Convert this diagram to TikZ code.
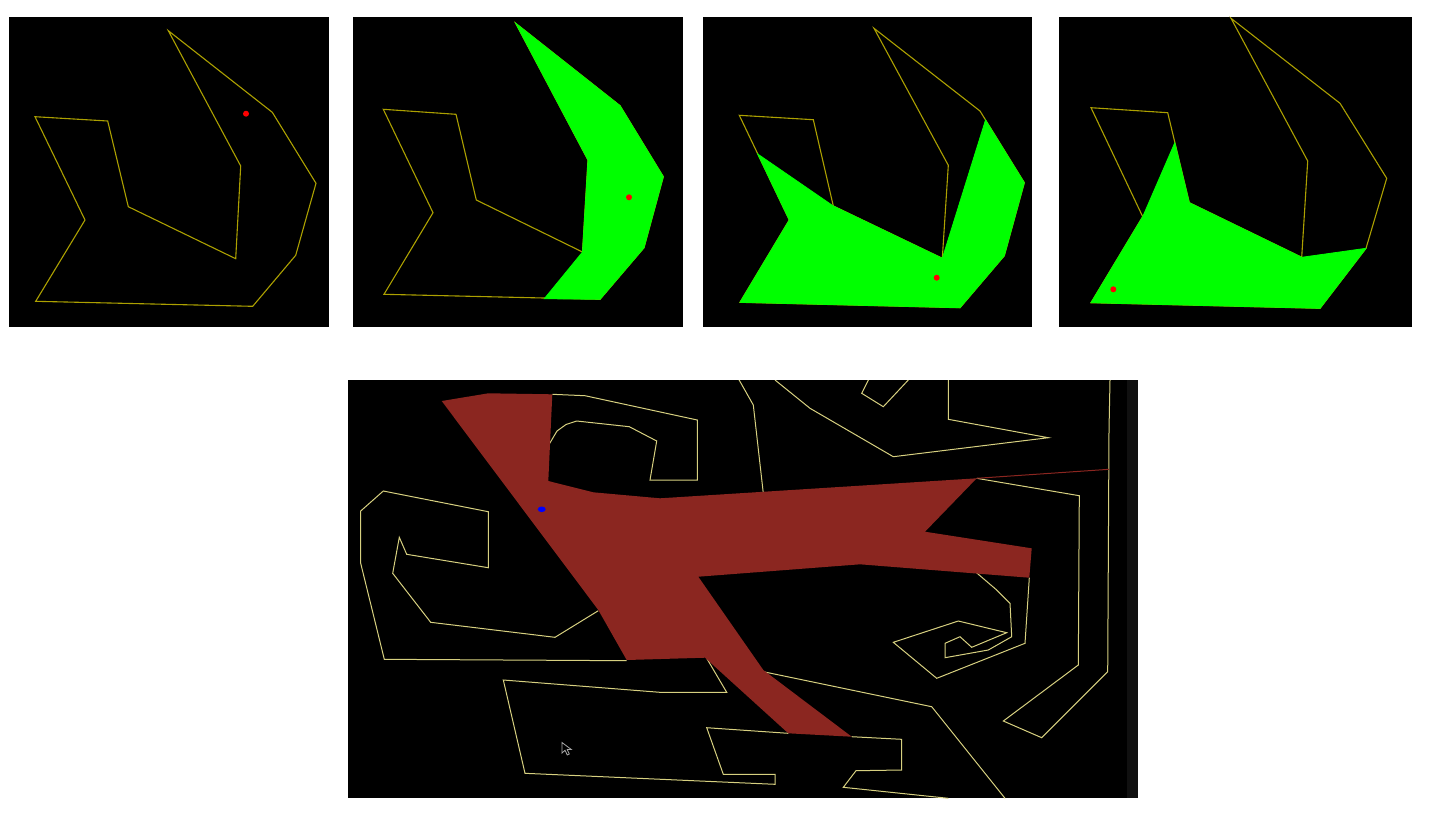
\documentclass[tikz,border=0pt]{standalone}
\begin{document}
\begin{tikzpicture}[x=1pt,y=-1pt,line join=miter]
\definecolor{olv}{RGB}{172,160,0}
\definecolor{ply}{RGB}{215,208,128}
\definecolor{brick}{RGB}{139,38,32}
\definecolor{lime}{RGB}{0,255,0}
\definecolor{strip}{RGB}{16,16,16}
\tikzset{
  panel/.style={fill=black},
  edge/.style={draw=olv,line width=1.1pt},
  region/.style={fill=lime,draw=lime,line width=0.8pt},
  probe/.style={fill=red},
  wire/.style={draw=ply,line width=1pt},
  zone/.style={fill=brick}
}
\useasboundingbox (0,0) rectangle (1442,820);
\fill[white] (0,0) rectangle (1442,820);
% ---------- panel 1
\fill[panel] (9,17) rectangle (329,327);
\path[edge] (168.3,30.7) -- (272.3,112.3) -- (316,183.3) -- (295.7,255.3) -- (252.7,306.3) -- (35.7,301.3) -- (85,220) -- (35,116.7) -- (107.7,121) -- (128.3,206.7) -- (235.7,258.7) -- (240.7,166) -- cycle;
\fill[probe] (246,113.7) circle (3);
% ---------- panel 2
\fill[panel] (353,17) rectangle (683,327);
\path[edge] (515.7,23.3) -- (620,105.7) -- (663.3,176.7) -- (644,247.7) -- (600,299.3) -- (384,294.3) -- (433,212.7) -- (383.3,109.3) -- (456,114.3) -- (476.3,200) -- (582.5,252) -- (588,160) -- cycle;
\path[region] (515.7,23.3) -- (620,105.7) -- (663.3,176.7) -- (644,247.7) -- (600,299.3) -- (544.3,298.7) -- (582.5,252) -- (588,160) -- cycle;
\fill[probe] (629,197.3) circle (3);
% ---------- panel 3
\fill[panel] (703,17) rectangle (1032,327);
\path[edge] (874,28.3) -- (980,111) -- (1024.3,182.7) -- (1004.3,255.7) -- (960,307.7) -- (740,302.3) -- (789.3,220) -- (739.3,115.3) -- (813.3,119.7) -- (833.3,206) -- (942.3,258.3) -- (948.3,165.3) -- cycle;
\path[region] (757.7,154) -- (833.3,206) -- (942.3,258.3) -- (985.5,120) -- (1024.3,182.7) -- (1004.3,255.7) -- (960,307.7) -- (740,302.3) -- (789.3,220) -- cycle;
\fill[probe] (936.7,277.7) circle (3);
% ---------- panel 4
\fill[panel] (1059,17) rectangle (1412,327);
\path[edge] (1231,18.3) -- (1340,103.3) -- (1386.7,178.3) -- (1366,248.3) -- (1320,308.3) -- (1091,302.7) -- (1142.7,216.7) -- (1091,107.7) -- (1167.7,112.7) -- (1189.3,202.7) -- (1301.7,257.3) -- (1307.7,161) -- cycle;
\path[region] (1142.7,216.7) -- (1174.8,142.7) -- (1189.3,202.7) -- (1301.7,257.3) -- (1366,248.3) -- (1320,308.3) -- (1091,302.7) -- cycle;
\fill[probe] (1113.3,289.3) circle (3);
% ---------- bottom panel
\fill[panel] (348,380) rectangle (1138,798);
\fill[strip] (1127,380) rectangle (1138,798);
\begin{scope}
\clip (348,380) rectangle (1127,798);
% upper C shape
\path[wire] (552.3,394.3) -- (585,395.7) -- (697.3,420) -- (697.3,480) -- (650,480) -- (656.7,441) -- (629.3,426.7) -- (576.7,421) -- (566,424.5) -- (557,431) -- (548.3,445.7);
% left C shape
\path[wire] (598.3,610.7) -- (555,637.3) -- (430.7,622.3) -- (392.7,573.3) -- (399.3,537.3) -- (406.7,554.3) -- (488.3,567.7) -- (488.3,511.7) -- (383.3,491) -- (360.7,511) -- (360.7,563.3) -- (384.3,659.3) -- (626.7,660.7);
% lower boxes
\path[wire] (706.7,658.3) -- (726.7,692.3) -- (660,692.3) -- (503.3,680) -- (525,773.3) -- (775,784.3) -- (775,774.3) -- (723.3,774.3) -- (706.7,727.7) -- (788.3,733.3);
\path[wire] (851.7,736.7) -- (901.7,739.3) -- (901.7,770) -- (856,770.7) -- (843.3,787.3) -- (948.3,798.3);
% upper middle lines
\path[wire] (738,378) -- (753.3,405) -- (763.3,493.3);
\path[wire] (775,380) -- (810,408.3) -- (893.3,456.7) -- (1048.3,437.7) -- (948.3,419.3) -- (948.3,380);
\path[wire] (868.3,380) -- (861.7,393.3) -- (883.3,406.7) -- (908.3,380);
% right long line
\path[wire] (976.7,478.3) -- (1079.3,495.7) -- (1078.3,665) -- (1003.3,721) -- (1041.7,737.7) -- (1107.7,671.7) -- (1109,430) -- (1110,380);
% spiral
\path[wire] (973.3,570) -- (996.7,590) -- (1010,603.3) -- (1011.7,636.7) -- (988.3,650) -- (945,657.7) -- (945,643.3) -- (960,636.7) -- (971.7,647.3) -- (1006.7,632.7) -- (958.3,621) -- (893.3,642.3) -- (936.7,678.3) -- (1025,643.3) -- (1029.3,577.7);
% line below arm
\path[wire] (763.3,671.7) -- (931.7,706.7) -- (1005,798.3);
% red region
\path[zone] (441.7,401) -- (488.3,393.3) -- (552.3,394.3) -- (548.3,481) -- (593.3,492.3) -- (660,498.3) -- (976.7,478.3) -- (925,531.7) -- (1031.7,548.3) -- (1029.3,577.7) -- (860,564.3) -- (698.3,576.7) -- (763.3,670) -- (851.7,736.7) -- (788.3,733.3) -- (705,657.7) -- (626.7,660) -- (598.3,610) -- cycle;
\draw[brick,line width=1pt] (976.7,478.3) -- (1109,469.3);
% blue probe
\fill[blue] (541.7,509.3) ellipse (4 and 2.8);
% cursor
\path[draw={rgb,255:red,170;green,170;blue,170},fill=black,line width=0.8pt] (562,742.5) -- (562,753) -- (565,750.3) -- (567.3,755) -- (569.3,754) -- (567.2,749.5) -- (571.3,749.5) -- cycle;
\end{scope}
\end{tikzpicture}
\end{document}
